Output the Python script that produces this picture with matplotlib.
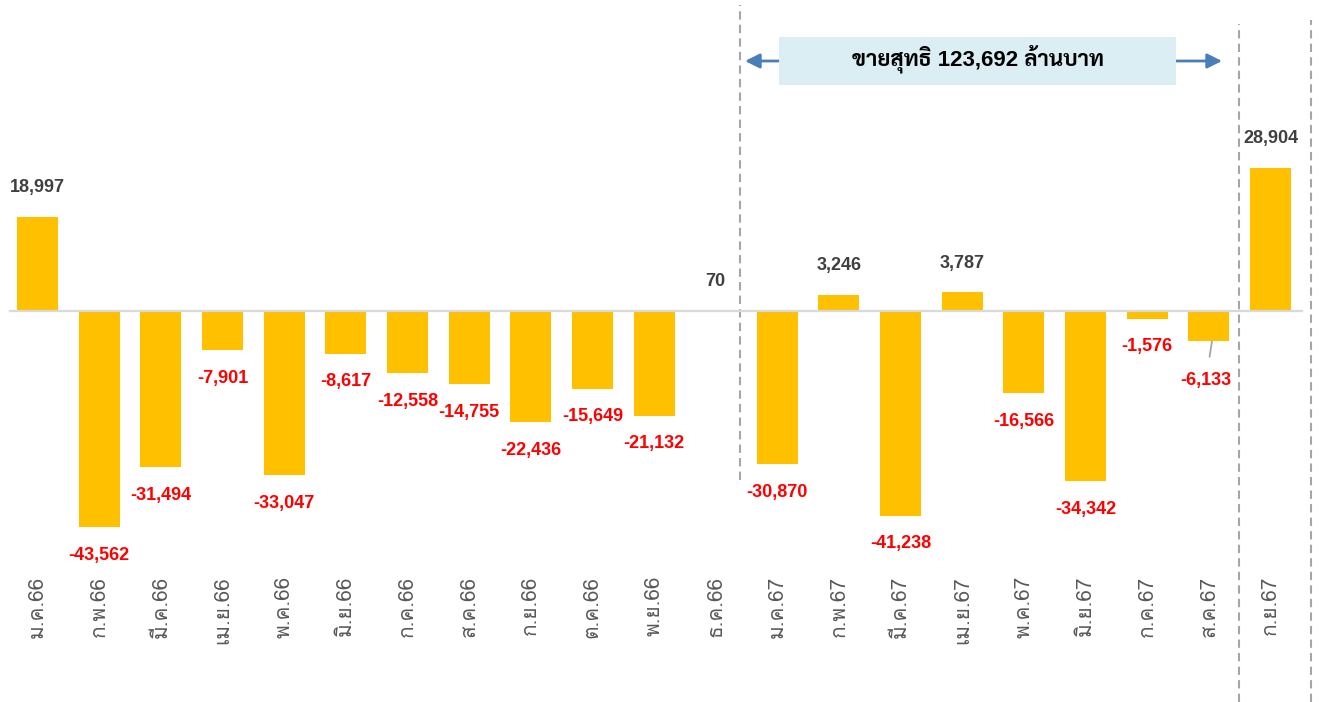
import matplotlib
matplotlib.use('Agg')
import matplotlib.pyplot as plt
from matplotlib.patches import Rectangle

# net buy/sell by month (million baht)
months = ['ม.ค.66', 'ก.พ.66', 'มี.ค.66', 'เม.ย.66', 'พ.ค.66', 'มิ.ย.66', 'ก.ค.66',
          'ส.ค.66', 'ก.ย.66', 'ต.ค.66', 'พ.ย.66', 'ธ.ค.66', 'ม.ค.67', 'ก.พ.67',
          'มี.ค.67', 'เม.ย.67', 'พ.ค.67', 'มิ.ย.67', 'ก.ค.67', 'ส.ค.67', 'ก.ย.67']
values = [18997, -43562, -31494, -7901, -33047, -8617, -12558, -14755, -22436,
          -15649, -21132, 70, -30870, 3246, -41238, 3787, -16566, -34342,
          -1576, -6133, 28904]
summary_text = 'ขายสุทธิ 123,692 ล้านบาท'

W, H = 1319, 702
X0, DX = 37.5, 61.65      # pixel centre of first bar, bar spacing
Y0, SY = 311, 0.004964    # pixel row of zero, pixels per unit


def px_x(p):
    return (p - X0) / DX


def px_y(p):
    return (Y0 - p) / SY


num_font = ['Liberation Sans', 'Sarabun']
thai_font = ['Loma', 'Liberation Sans']

fig = plt.figure(figsize=(W / 100, H / 100), dpi=100)
ax = fig.add_axes([0, 0, 1, 1])
ax.set_xlim(px_x(0), px_x(W))
ax.set_ylim(px_y(H), px_y(0))
ax.axis('off')

x = list(range(len(values)))
ax.bar(x, values, width=41 / DX, color='#FFC000', zorder=2)
ax.axhline(0, xmin=10 / W, xmax=1302 / W, color='#D9D9D9', lw=1.6, zorder=3)

# value labels
for i, v in enumerate(values):
    if v >= 0:
        ax.annotate(f'{v:,}', (i, v), xytext=(0, 29), textcoords='offset pixels',
                    ha='center', va='center', fontsize=13, fontweight='bold',
                    color='#404040', family=num_font)
    elif months[i] == 'ส.ค.67':
        # small label pushed down with a leader line
        ax.annotate(f'{v:,}', (i + 0.05, v), xytext=(-6, -39), textcoords='offset pixels',
                    ha='center', va='center', fontsize=13, fontweight='bold',
                    color='#FF0000', family=num_font,
                    arrowprops=dict(arrowstyle='-', color='#A6A6A6', lw=1.3,
                                    shrinkA=9, shrinkB=0))
    else:
        ax.annotate(f'{v:,}', (i, v), xytext=(0, -28), textcoords='offset pixels',
                    ha='center', va='center', fontsize=13, fontweight='bold',
                    color='#FF0000', family=num_font)

# month labels
for i, m in enumerate(months):
    ax.text(i, px_y(576), m, rotation=90, ha='center', va='top', fontsize=15,
            color='#595959', family=thai_font)

# dashed separators
dash = dict(color='#A6A6A6', lw=1.5, linestyle=(0, (4, 2.5)), zorder=1)
ax.axvline(px_x(739.5), ymin=1 - 480 / H, ymax=1 - 5 / H, **dash)
ax.axvline(px_x(1239), ymin=0, ymax=1 - 24 / H, **dash)
ax.axvline(px_x(1311), ymin=0, ymax=1 - 20 / H, **dash)

# summary box with arrows
ax.add_patch(Rectangle((px_x(779), px_y(85)), px_x(1176) - px_x(779),
                       px_y(37) - px_y(85), facecolor='#DAEEF3',
                       edgecolor='none', zorder=4))
ax.text((px_x(779) + px_x(1176)) / 2, px_y(59), summary_text, ha='center',
        va='center', fontsize=16, fontweight='bold', color='black',
        family=num_font, zorder=5)
arrow = dict(arrowstyle='-|>', color='#4A7EBB', lw=2, mutation_scale=22,
             shrinkA=0, shrinkB=0)
ax.annotate('', xy=(px_x(745), px_y(61)), xytext=(px_x(779), px_y(61)), arrowprops=arrow)
ax.annotate('', xy=(px_x(1222), px_y(61)), xytext=(px_x(1176), px_y(61)), arrowprops=arrow)

fig.savefig('out.png', dpi=100)
